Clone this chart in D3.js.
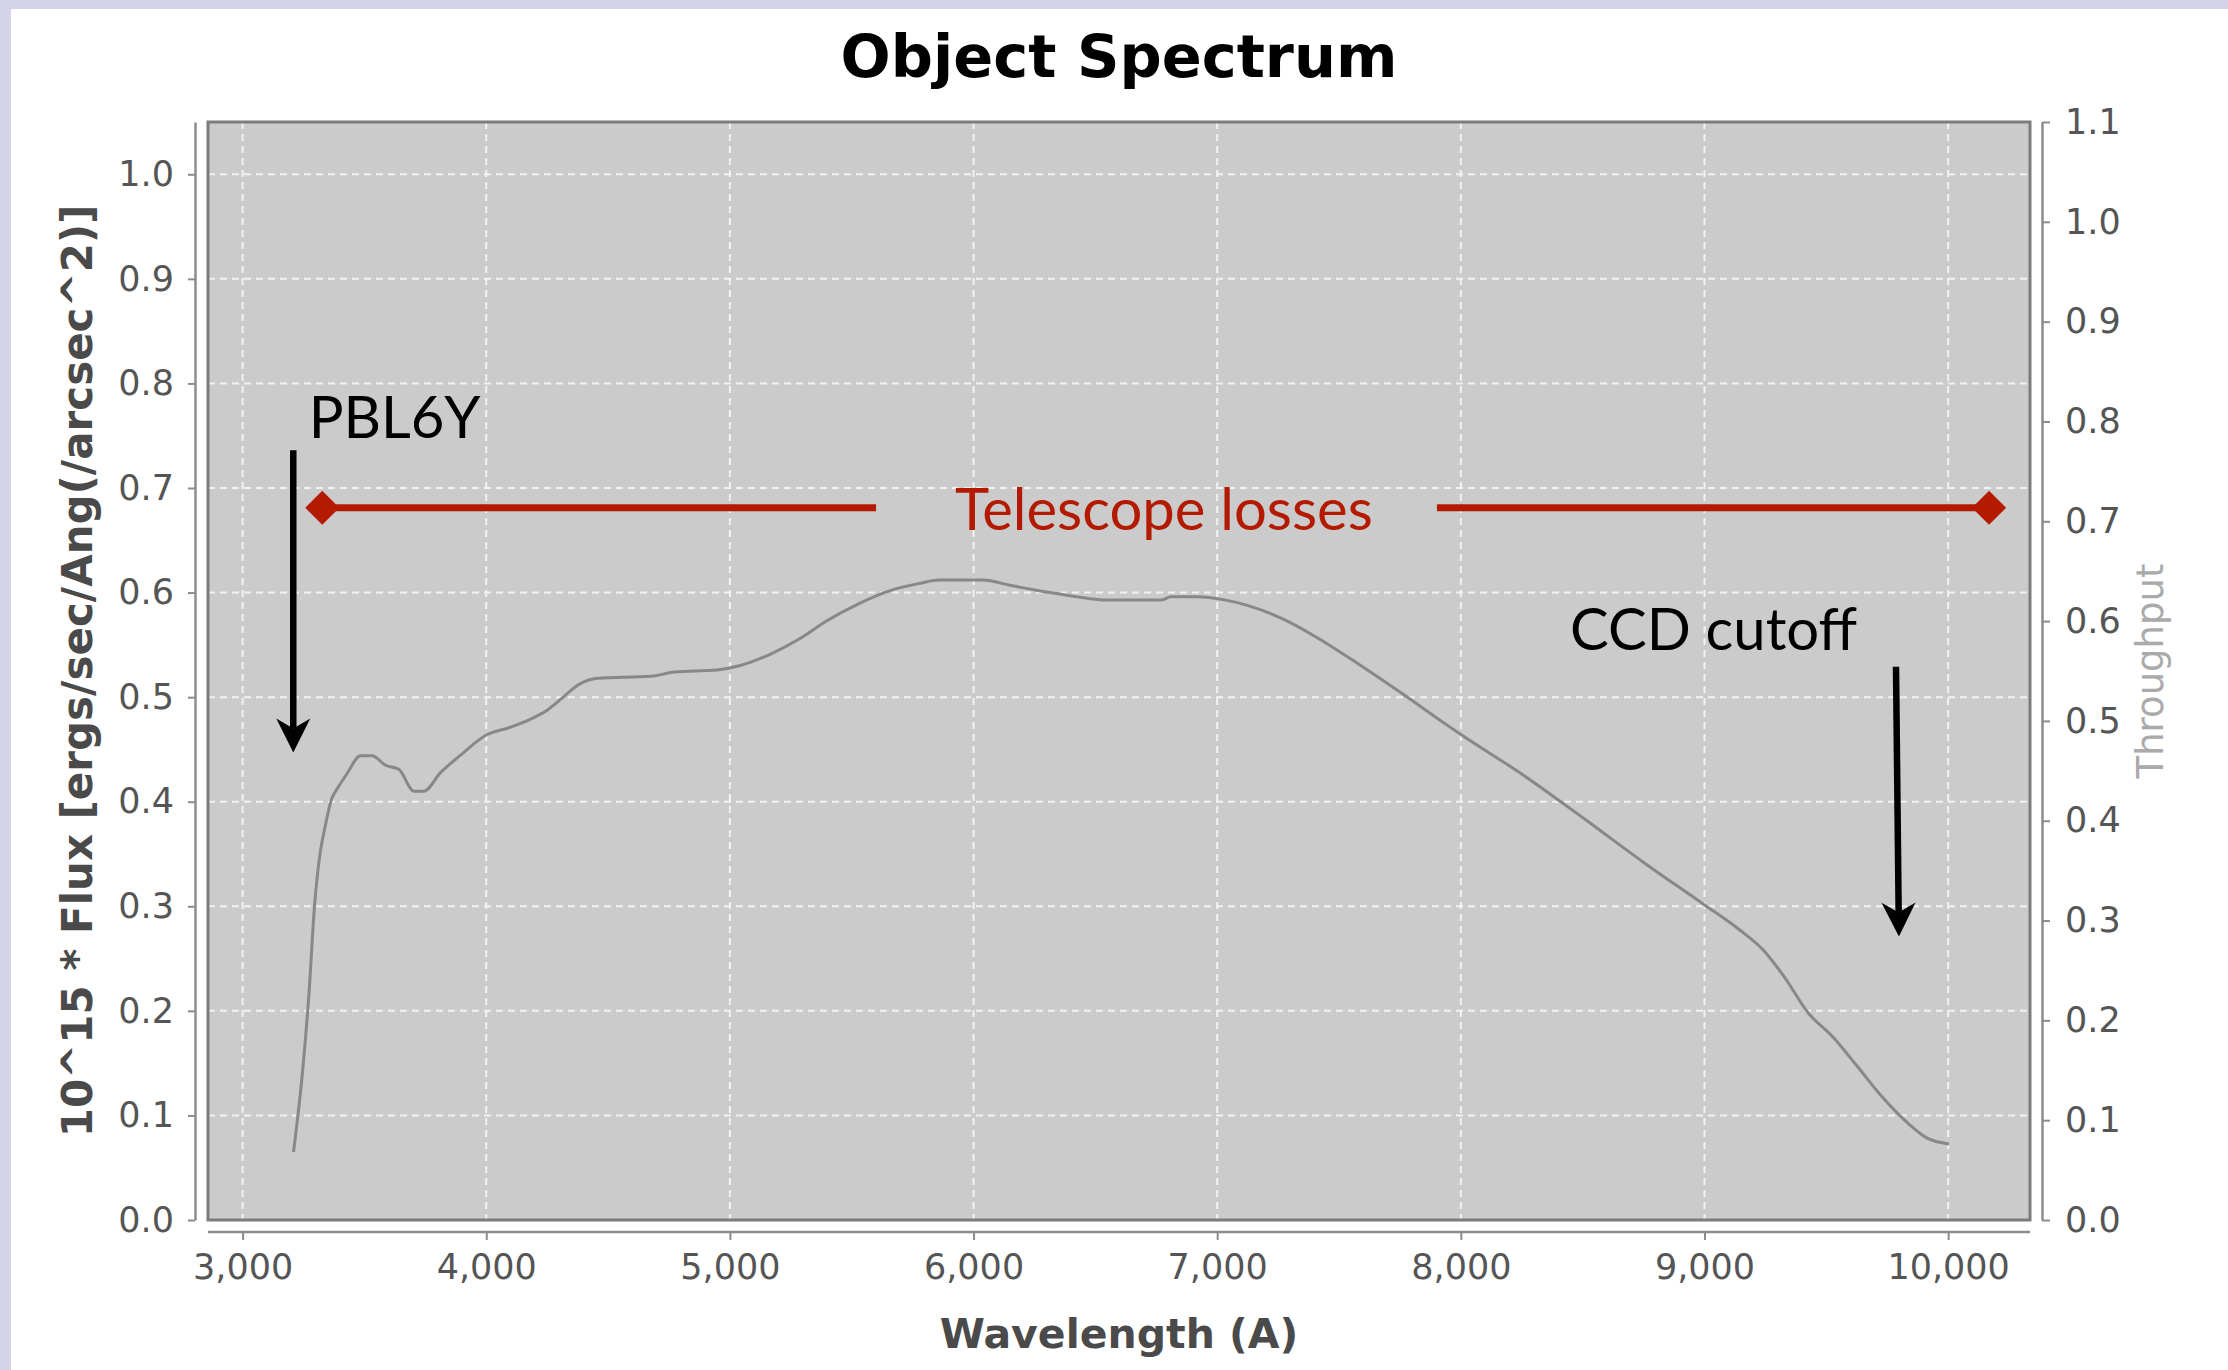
<!DOCTYPE html>
<html>
<head>
<meta charset="utf-8">
<script src="https://cdn.jsdelivr.net/npm/d3@7"></script>
<style>
	html, body { margin: 0; padding: 0; background: #fff; }
	svg { display: block; }
</style>
</head>
<body>
<svg id="chart" width="2228" height="1370"></svg>
<script>
// spectrum (wavelength in A, flux)
var wavelength = [3209, 3248, 3272, 3295, 3319, 3335, 3366, 3390, 3429, 3484, 3531, 3586, 3641, 3704, 3743,
	3813, 3892, 4002, 4096, 4191, 4253, 4316, 4379, 4458, 4677, 4772, 4945, 5039, 5165, 5288, 5398, 5526,
	5673, 5783, 5856, 6040, 6149, 6314, 6424, 6534, 6772, 6809, 6919, 7029, 7120, 7267, 7395, 7578, 7762,
	7945, 8002, 8253, 8505, 8756, 8996, 9141, 9242, 9326, 9426, 9527, 9627, 9728, 9828, 9912, 10004];
var flux = [0.065, 0.147, 0.215, 0.300, 0.352, 0.372, 0.403, 0.413, 0.427, 0.444, 0.444, 0.435, 0.431, 0.410, 0.410,
	0.428, 0.444, 0.464, 0.471, 0.480, 0.488, 0.500, 0.512, 0.518, 0.520, 0.524, 0.526, 0.530, 0.541, 0.556, 0.573, 0.589,
	0.603, 0.609, 0.612, 0.612, 0.607, 0.600, 0.596, 0.593, 0.593, 0.596, 0.596, 0.593, 0.588, 0.575, 0.559, 0.532, 0.503,
	0.473, 0.464, 0.426, 0.384, 0.341, 0.302, 0.278, 0.258, 0.233, 0.198, 0.175, 0.147, 0.118, 0.094, 0.0785, 0.0727];

var xTicks = [3000, 4000, 5000, 6000, 7000, 8000, 9000, 10000];
var yTicks = [0.0, 0.1, 0.2, 0.3, 0.4, 0.5, 0.6, 0.7, 0.8, 0.9, 1.0];
var y2Ticks = [0.0, 0.1, 0.2, 0.3, 0.4, 0.5, 0.6, 0.7, 0.8, 0.9, 1.0, 1.1];

// annotations, in data units
var telescopeLoss = {flux: 0.681, from: 3327, to: 10168, gapFrom: 5600, gapTo: 7902};
var pblArrow = {wl: 3208, top: 0.736, tip: 0.447};
var ccdArrow = {wlTop: 9786, wlTip: 9798, top: 0.529, tip: 0.271};
var notes = [
	{text: "PBL6Y", wl: 3271, flux: 0.7475, color: "#000"},
	{text: "Telescope losses", wl: 5924, flux: 0.660, color: "#b41a00"},
	{text: "CCD cutoff", wl: 8448, flux: 0.545, color: "#000"}
];

var svg = d3.select("#chart"),
	plotL = 208, plotR = 2030, plotT = 122, plotB = 1220;

// page frame
svg.append("rect").attr("width", 2228).attr("height", 1370).attr("fill", "#fff");
svg.append("rect").attr("width", 2228).attr("height", 9).attr("fill", "#d3d3ea");
svg.append("rect").attr("width", 11).attr("height", 1370).attr("fill", "#d3d3ea");

var x = d3.scaleLinear().domain([2858, 10336]).range([plotL, plotR]);
var y = d3.scaleLinear().domain([0, 1.05]).range([plotB, plotT]);
var y2 = d3.scaleLinear().domain([0, 1.1]).range([plotB, plotT]);

// plot background
svg.append("rect")
	.attr("x", plotL).attr("y", plotT)
	.attr("width", plotR - plotL).attr("height", plotB - plotT)
	.attr("fill", "#cbcbcb");

// grid
var grid = svg.append("g")
	.attr("stroke", "#f2f2f2")
	.attr("stroke-width", 2)
	.attr("stroke-dasharray", "7,5");
grid.selectAll(".vg").data(xTicks).enter().append("line")
	.attr("x1", function(d) { return x(d); }).attr("x2", function(d) { return x(d); })
	.attr("y1", plotT).attr("y2", plotB);
grid.selectAll(".hg").data(yTicks.slice(1)).enter().append("line")
	.attr("y1", function(d) { return y(d); }).attr("y2", function(d) { return y(d); })
	.attr("x1", plotL).attr("x2", plotR);

// spectrum
var pts = wavelength.map(function(w, i) { return [w, flux[i]]; });
var line = d3.line()
	.x(function(d) { return x(d[0]); })
	.y(function(d) { return y(d[1]); })
	.curve(d3.curveMonotoneX);
svg.append("path")
	.datum(pts)
	.attr("fill", "none")
	.attr("stroke", "#888")
	.attr("stroke-width", 3)
	.attr("stroke-linejoin", "round")
	.attr("d", line);

// plot border
svg.append("rect")
	.attr("x", plotL).attr("y", plotT)
	.attr("width", plotR - plotL).attr("height", plotB - plotT)
	.attr("fill", "none")
	.attr("stroke", "#7c7c7c")
	.attr("stroke-width", 3);

// axes
function styleAxis(g) {
	g.select(".domain").attr("stroke", "#8c8c8c").attr("stroke-width", 2.5);
	g.selectAll(".tick line").attr("stroke", "#8c8c8c").attr("stroke-width", 2);
	g.selectAll(".tick text")
		.attr("fill", "#555")
		.attr("font-family", "DejaVu Sans")
		.attr("font-size", 35);
}

svg.append("g")
	.attr("transform", "translate(0,1232)")
	.call(d3.axisBottom(x).tickValues(xTicks).tickFormat(d3.format(",")).tickSize(8).tickSizeOuter(0).tickPadding(14))
	.call(styleAxis)
	.select(".domain").attr("d", "M" + plotL + ",0H" + plotR);

svg.append("g")
	.attr("transform", "translate(195,0)")
	.call(d3.axisLeft(y).tickValues(yTicks).tickFormat(d3.format(".1f")).tickSize(7).tickSizeOuter(0).tickPadding(14))
	.call(styleAxis);

svg.append("g")
	.attr("transform", "translate(2042,0)")
	.call(d3.axisRight(y2).tickValues(y2Ticks).tickFormat(d3.format(".1f")).tickSize(8).tickSizeOuter(0).tickPadding(15))
	.call(styleAxis);

// titles
svg.append("text")
	.attr("x", (plotL + plotR) / 2).attr("y", 77)
	.attr("text-anchor", "middle")
	.attr("font-family", "DejaVu Sans").attr("font-weight", "bold").attr("font-size", 59)
	.attr("fill", "#000")
	.text("Object Spectrum");

svg.append("text")
	.attr("x", (plotL + plotR) / 2).attr("y", 1348)
	.attr("text-anchor", "middle")
	.attr("font-family", "DejaVu Sans").attr("font-weight", "bold").attr("font-size", 41)
	.attr("fill", "#4a4a4a")
	.text("Wavelength (A)");

svg.append("text")
	.attr("transform", "translate(92," + (plotT + plotB) / 2 + ") rotate(-90)")
	.attr("text-anchor", "middle")
	.attr("font-family", "DejaVu Sans").attr("font-weight", "bold").attr("font-size", 42)
	.attr("fill", "#4a4a4a")
	.text("10^15 * Flux [ergs/sec/Ang(/arcsec^2)]");

svg.append("text")
	.attr("transform", "translate(2163," + (plotT + plotB) / 2 + ") rotate(-90)")
	.attr("text-anchor", "middle")
	.attr("font-family", "DejaVu Sans").attr("font-size", 37)
	.attr("fill", "#aaa")
	.text("Throughput");

// telescope losses bar with diamond ends
var red = "#b41a00";
var tl = svg.append("g");
[[telescopeLoss.from, telescopeLoss.gapFrom], [telescopeLoss.gapTo, telescopeLoss.to]].forEach(function(s) {
	tl.append("line")
		.attr("x1", x(s[0])).attr("x2", x(s[1]))
		.attr("y1", y(telescopeLoss.flux)).attr("y2", y(telescopeLoss.flux))
		.attr("stroke", red).attr("stroke-width", 7);
});
[telescopeLoss.from, telescopeLoss.to].forEach(function(w) {
	var cx = x(w), cy = y(telescopeLoss.flux);
	tl.append("path")
		.attr("d", "M" + (cx - 17) + "," + cy + "L" + cx + "," + (cy - 17) + "L" + (cx + 17) + "," + cy + "L" + cx + "," + (cy + 17) + "Z")
		.attr("fill", red);
});

// arrows
function arrow(x1, y1, x2, y2) {
	var ang = Math.atan2(y2 - y1, x2 - x1) * 180 / Math.PI;
	var len = Math.hypot(x2 - x1, y2 - y1);
	var g = svg.append("g")
		.attr("transform", "translate(" + x1 + "," + y1 + ") rotate(" + ang + ")");
	g.append("line")
		.attr("x1", 0).attr("y1", 0).attr("x2", len - 24).attr("y2", 0)
		.attr("stroke", "#000").attr("stroke-width", 6.5);
	g.append("path")
		.attr("d", "M" + len + ",0L" + (len - 34) + ",-17L" + (len - 24) + ",0L" + (len - 34) + ",17Z")
		.attr("fill", "#000");
}
arrow(x(pblArrow.wl), y(pblArrow.top), x(pblArrow.wl), y(pblArrow.tip));
arrow(x(ccdArrow.wlTop), y(ccdArrow.top), x(ccdArrow.wlTip), y(ccdArrow.tip));

svg.selectAll(".note").data(notes).enter().append("text")
	.attr("x", function(d) { return x(d.wl); })
	.attr("y", function(d) { return y(d.flux); })
	.attr("font-family", "Lato").attr("font-size", 58)
	.attr("fill", function(d) { return d.color; })
	.text(function(d) { return d.text; });
</script>
</body>
</html>
